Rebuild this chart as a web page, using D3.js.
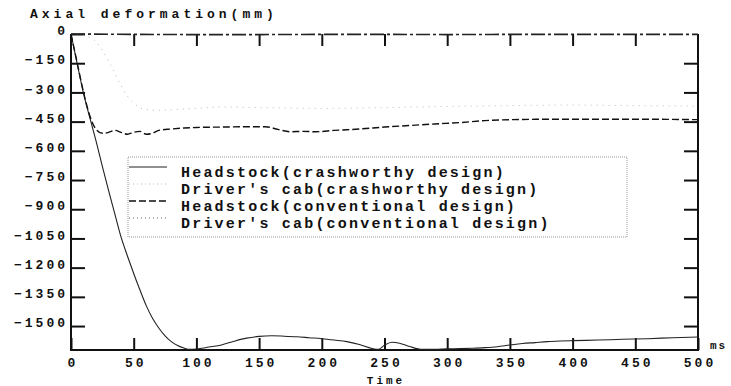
<!DOCTYPE html>
<html lang="en">
<head>
<meta charset="UTF-8">
<title>Axial deformation</title>
<script src="https://d3js.org/d3.v7.min.js"></script>
<style>
    body { margin: 0; background: white; }
    text { font-family: "Liberation Mono", "DejaVu Sans Mono", monospace; font-weight: bold; fill: #111; }
    .tick text { font-size: 13px; letter-spacing: 3px; }
    .axis path { stroke: #111; stroke-width: 2px; }
    .axis line { stroke: #111; stroke-width: 2px; }
    .curve { fill: none; }
    .legend-text { font-size: 15px; letter-spacing: 2.2px; }
</style>
</head>
<body>
<svg id="chart" width="731" height="386"></svg>
<script>
    const width = 731;
    const height = 386;

    // time axis (ms)
    const xTicks = [0, 50, 100, 150, 200, 250, 300, 350, 400, 450, 500];
    const yTicks = [0, -150, -300, -450, -600, -750, -900, -1050, -1200, -1350, -1500];

    const seriesNames = [
      "Headstock(crashworthy design)",
      "Driver's cab(crashworthy design)",
      "Headstock(conventional design)",
      "Driver's cab(conventional design)"
    ];

    // Headstock, crashworthy design
    const headCrashT = [0, 5, 10, 15, 20, 25, 30, 35, 40, 45, 50, 55, 60, 65, 70, 75, 80, 85, 90, 95, 100, 110, 120, 130, 140, 150, 160, 170, 180, 190, 200, 210, 220, 230, 240, 245, 250, 256, 262, 270, 280, 290, 300, 310, 320, 330, 340, 350, 360, 370, 380, 390, 400, 420, 440, 460, 480, 500];
    const headCrashV = [0, -155, -305, -430, -550, -680, -805, -925, -1045, -1140, -1230, -1315, -1395, -1460, -1510, -1550, -1580, -1600, -1613, -1620, -1618, -1608, -1597, -1578, -1562, -1553, -1550, -1552, -1555, -1560, -1565, -1572, -1580, -1595, -1615, -1620, -1598, -1583, -1588, -1605, -1620, -1620, -1617, -1616, -1614, -1611, -1606, -1597, -1590, -1585, -1580, -1577, -1575, -1572, -1568, -1565, -1560, -1556];

    // Driver's cab, crashworthy design
    const cabCrashT = [0, 5, 10, 15, 20, 25, 30, 35, 40, 45, 50, 55, 60, 70, 80, 90, 100, 120, 150, 200, 250, 300, 350, 400, 450, 500];
    const cabCrashV = [0, -2, -8, -18, -40, -85, -140, -200, -265, -320, -355, -378, -388, -392, -390, -385, -382, -375, -378, -382, -378, -372, -368, -365, -368, -370];

    // Headstock, conventional design
    const headConvT = [0, 5, 10, 15, 20, 25, 30, 35, 40, 45, 50, 55, 60, 65, 70, 80, 90, 100, 120, 140, 155, 165, 175, 185, 195, 210, 230, 250, 270, 290, 310, 330, 350, 380, 420, 460, 500];
    const headConvV = [0, -150, -300, -420, -490, -510, -505, -495, -505, -515, -505, -500, -515, -510, -495, -488, -483, -480, -478, -476, -476, -490, -502, -500, -502, -495, -488, -478, -470, -462, -455, -445, -440, -438, -438, -438, -440];

    // Driver's cab, conventional design
    const cabConvT = [0, 50, 100, 150, 200, 250, 300, 350, 400, 450, 500];
    const cabConvV = [0, -2, -3, -3, -2, -2, -3, -2, -2, -2, -2];

    const svg = d3.select("#chart");

    const x = d3.scaleLinear().domain([0, 500]).range([71, 698]);
    const y = d3.scaleLinear().domain([-1623, 0]).range([350, 34]);

    // Frame: left, bottom, right
    svg.append("path")
    .attr("d", `M${x(0)},${y(0)}V${y(-1623)}H${x(500)}V${y(0)}`)
    .attr("fill", "none")
    .attr("stroke", "#111")
    .attr("stroke-width", 2);

    // Bottom axis
    const gx = svg.append("g")
    .attr("class", "axis")
    .attr("transform", `translate(0,${y(-1623)})`)
    .call(d3.axisBottom(x).tickValues(xTicks).tickFormat(d3.format("d")).tickSizeInner(-12).tickSizeOuter(0).tickPadding(8));
    gx.select(".domain").remove();
    gx.selectAll(".tick text").attr("dx", "1.5");

    // Left axis
    const gy = svg.append("g")
    .attr("class", "axis")
    .attr("transform", `translate(${x(0)},0)`)
    .call(d3.axisLeft(y).tickValues(yTicks).tickFormat(d3.format("d")).tickSizeInner(-14).tickSizeOuter(0).tickPadding(3));
    gy.select(".domain").remove();
    gy.selectAll(".tick text").attr("dy", "0.05em");

    // Top ticks
    svg.append("g")
    .attr("class", "axis")
    .attr("transform", `translate(0,${y(0)})`)
    .call(d3.axisTop(x).tickValues(xTicks.slice(1, -1)).tickSizeInner(-12).tickSizeOuter(0).tickFormat(""))
    .select(".domain").remove();

    // Right ticks
    svg.append("g")
    .attr("class", "axis")
    .attr("transform", `translate(${x(500)},0)`)
    .call(d3.axisRight(y).tickValues(yTicks.slice(1)).tickSizeInner(-14).tickSizeOuter(0).tickFormat(""))
    .select(".domain").remove();

    const line = d3.line()
    .x(d => x(d[0]))
    .y(d => y(d[1]))
    .curve(d3.curveMonotoneX);

    const styles = [
      { stroke: "#222", width: 1.1, dash: null },
      { stroke: "#bbb", width: 1, dash: "1,5" },
      { stroke: "#111", width: 1.4, dash: "7,3" },
      { stroke: "#222", width: 1.6, dash: "14,3,3,3" }
    ];

    const series = [
      d3.zip(headCrashT, headCrashV),
      d3.zip(cabCrashT, cabCrashV),
      d3.zip(headConvT, headConvV),
      d3.zip(cabConvT, cabConvV)
    ];

    series.forEach((s, i) => {
      svg.append("path")
      .attr("class", "curve")
      .attr("d", line(s))
      .attr("stroke", styles[i].stroke)
      .attr("stroke-width", styles[i].width)
      .attr("stroke-dasharray", styles[i].dash);
    });

    // Legend
    const legend = svg.append("g");
    legend.append("rect")
    .attr("x", 128)
    .attr("y", 157)
    .attr("width", 499)
    .attr("height", 80)
    .attr("fill", "white")
    .attr("stroke", "#999")
    .attr("stroke-width", 1)
    .attr("stroke-dasharray", "1,1");

    seriesNames.forEach((name, i) => {
      const ly = 177 + i * 17;
      legend.append("line")
      .attr("x1", 129)
      .attr("x2", 167)
      .attr("y1", ly - 10)
      .attr("y2", ly - 10)
      .attr("stroke", i === 3 ? "#999" : styles[i].stroke)
      .attr("stroke-width", styles[i].width)
      .attr("stroke-dasharray", i === 3 ? "1,3" : (i === 1 ? "1,3" : styles[i].dash));

      legend.append("text")
      .attr("class", "legend-text")
      .attr("x", 181)
      .attr("y", ly)
      .text(name);
    });

    // Axis titles
    svg.append("text")
    .attr("x", 30)
    .attr("y", 18)
    .style("font-size", "13px")
    .style("letter-spacing", "4px")
    .text("Axial deformation(mm)");

    svg.append("text")
    .attr("x", 710)
    .attr("y", 349)
    .style("font-size", "11px")
    .style("letter-spacing", "2px")
    .text("ms");

    svg.append("text")
    .attr("x", 386)
    .attr("y", 384)
    .attr("text-anchor", "middle")
    .style("font-size", "11px")
    .style("letter-spacing", "3px")
    .text("Time");
</script>
</body>
</html>
